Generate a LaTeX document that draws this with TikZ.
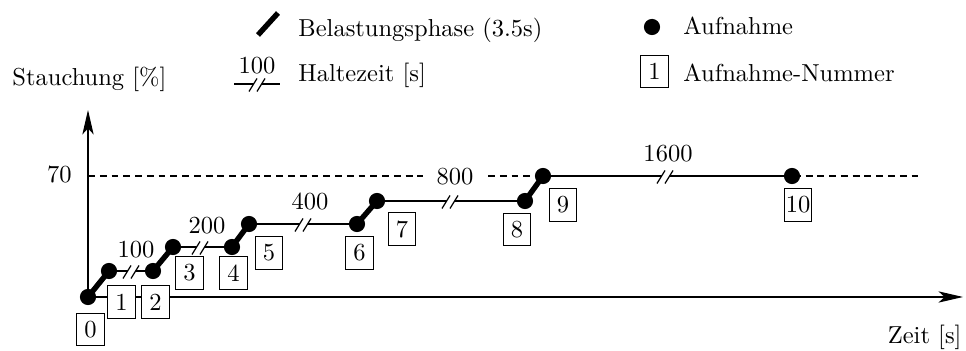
\documentclass[tikz,border=0pt]{standalone}
\usetikzlibrary{arrows.meta}
\begin{document}
\begin{tikzpicture}[x=0.408pt,y=-0.408pt,
  thinln/.style={line width=0.5pt},
  loadln/.style={line width=2.2pt},
  dashln/.style={line width=0.5pt,dash pattern=on 2.8pt off 2pt},
  dot/.style={circle,fill=black,inner sep=0pt,minimum size=6.6pt},
  numbox/.style={draw,fill=white,line width=0.4pt,minimum width=11.2pt,minimum height=13.2pt,inner sep=0.5pt},
  lbl/.style={inner sep=0pt},
  axisln/.style={line width=0.5pt,-{Stealth[length=10pt,width=4.6pt,inset=2.5pt]}},
  brk/.pic={\fill[white] (-8,6.5) -- (0,-6.5) -- (8,-6.5) -- (0,6.5) -- cycle;
            \draw[line width=0.5pt] (-8,6.5) -- (0,-6.5) (0,6.5) -- (8,-6.5);}
  ]
\useasboundingbox (0,0) rectangle (966,351);

% measurement points
\coordinate (c0) at (88,297);
\coordinate (c1) at (109,271);
\coordinate (c2) at (153,271);
\coordinate (c3) at (173,247);
\coordinate (c4) at (232,247);
\coordinate (c5) at (249,224);
\coordinate (c6) at (357,224);
\coordinate (c7) at (377,201);
\coordinate (c8) at (525,201);
\coordinate (c9) at (543,176);
\coordinate (c10) at (792,176);
\coordinate (ytip) at (88,110);
\coordinate (xtip) at (963,297);
\coordinate (d70) at (88,176);
\coordinate (dend) at (920,176);

% 70 % level
\draw[dashln] (d70) -- (dend);
\node[lbl,anchor=base east] (l70) at (72,183) {70};

% axes
\draw[axisln] (c0) -- (ytip);
\draw[axisln] (c0) -- (xtip);
\node[lbl,anchor=base west] (ylab) at (12,86) {Stauchung [\%]};
\node[lbl,anchor=base east] (xlab) at (962,344) {Zeit [s]};

% holding phases
\draw[thinln] (c1) -- (c2);
\draw[thinln] (c3) -- (c4);
\draw[thinln] (c5) -- (c6);
\draw[thinln] (c7) -- (c8);
\draw[thinln] (c9) -- (c10);
\pic at (131,272) {brk};
\pic at (200,248) {brk};
\pic at (303,225) {brk};
\pic at (450,202) {brk};
\pic at (665,177) {brk};
\node[lbl,anchor=base] (t100) at (136,258) {100};
\node[lbl,anchor=base] (t200) at (207,234) {200};
\node[lbl,anchor=base] (t400) at (310,210) {400};
\node[fill=white,inner xsep=5.5pt,inner ysep=1pt,anchor=base] (t800) at (455,185) {800};
\node[lbl,anchor=base] (t1600) at (668,162) {1600};

% loading phases
\draw[loadln] (c0) -- (c1);
\draw[loadln] (c2) -- (c3);
\draw[loadln] (c4) -- (c5);
\draw[loadln] (c6) -- (c7);
\draw[loadln] (c8) -- (c9);

% recordings
\foreach \i in {0,...,10} {\node[dot] (p\i) at (c\i) {};}

% recording numbers
\node[numbox] (b0) at (90.5,329.5) {0};
\node[numbox] (b1) at (121.5,302) {1};
\node[numbox] (b2) at (155.5,302) {2};
\node[numbox] (b3) at (189.5,273) {3};
\node[numbox] (b4) at (233.5,273) {4};
\node[numbox] (b5) at (269,253) {5};
\node[numbox] (b6) at (359.5,253) {6};
\node[numbox] (b7) at (402,229) {7};
\node[numbox] (b8) at (517,229.5) {8};
\node[numbox] (b9) at (563,205) {9};
\node[numbox] (b10) at (798,205) {10};

% legend
\coordinate (la) at (258,35);
\coordinate (lb) at (278,13);
\draw[loadln] (la) -- (lb);
\node[lbl,anchor=base west] (lg1) at (298,37) {Belastungsphase (3.5s)};
\coordinate (lc) at (234,84);
\coordinate (ld) at (280,84);
\draw[thinln] (lc) -- (ld);
\pic at (257,85) {brk};
\node[lbl,anchor=base] (lg100) at (257,74) {100};
\node[lbl,anchor=base west] (lg2) at (298,82) {Haltezeit [s]};
\node[dot] (ldot) at (652,27) {};
\node[lbl,anchor=base west] (lg3) at (683,35) {Aufnahme};
\node[numbox] (lbox) at (654.5,71.5) {1};
\node[lbl,anchor=base west] (lg4) at (683,82) {Aufnahme-Nummer};
\end{tikzpicture}
\end{document}
